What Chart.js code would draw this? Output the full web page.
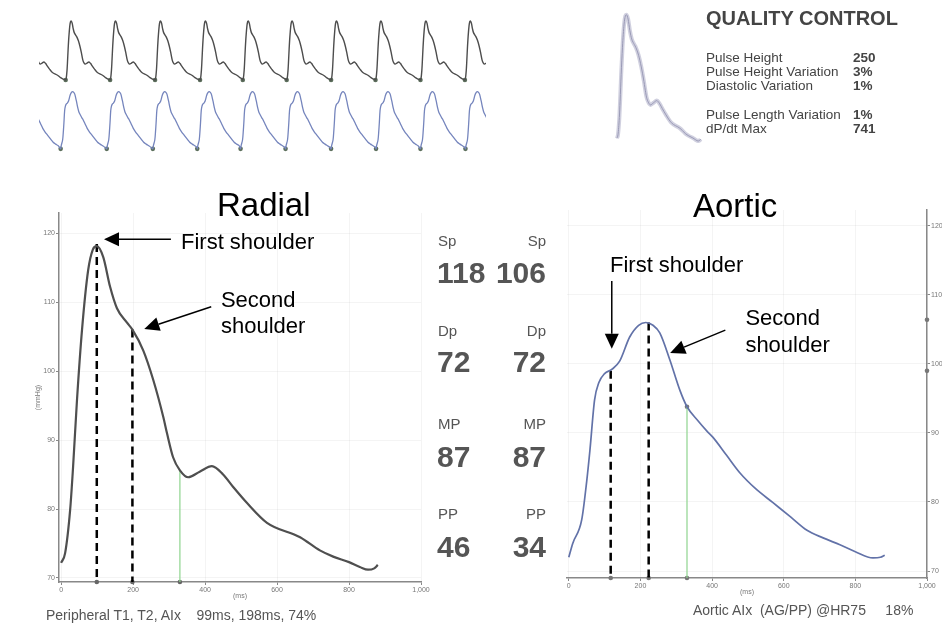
<!DOCTYPE html>
<html>
<head>
<meta charset="utf-8">
<script src="https://cdn.jsdelivr.net/npm/chart.js@4.4.1/dist/chart.umd.min.js"></script>
<style>
  body { margin: 0; background: #fff; font-family: Arial, "Liberation Sans", sans-serif; }
  #page { position: relative; width: 942px; height: 623px; overflow: hidden; background: #fff; }
  canvas, .txt { position: absolute; }
  .txt { white-space: pre; color: #555; line-height: 1; }
</style>
</head>
<body>
<div id="page">
  <canvas id="stripChart" width="455" height="170" style="left:35px;top:0px"></canvas>
  <canvas id="qcChart" width="110" height="150" style="left:605px;top:5px"></canvas>
  <canvas id="radialChart" width="442" height="423" style="left:0px;top:200px"></canvas>
  <canvas id="aorticChart" width="402" height="427" style="left:540px;top:196px"></canvas>
</div>
<script>
// Averaged radial pulse (ms, mmHg)
const radialMs = [0, 11, 25, 33, 44, 58, 75, 88, 99, 117, 136, 155, 183, 198, 228, 256, 284, 294, 311, 330, 353, 385, 419, 450, 478, 516, 572, 664, 719, 756, 800, 830, 853, 870, 880];
const radialP = [72.2, 73.6, 79.9, 86.0, 95.8, 106.0, 114.6, 117.6, 118.1, 116.5, 112.2, 109.1, 107.0, 106.0, 103.0, 98.7, 93.3, 91.0, 87.5, 85.6, 84.6, 85.4, 86.2, 85.0, 83.2, 80.9, 78.0, 75.9, 74.0, 73.1, 72.3, 71.6, 71.2, 71.4, 71.9];

// Derived aortic pulse (ms, mmHg)
const aorticMs = [0, 11, 36, 50, 59, 72, 84, 100, 120, 142, 170, 195, 215, 235, 254, 282, 310, 330, 360, 385, 402, 440, 478, 520, 570, 620, 665, 710, 757, 800, 849, 870, 882];
const aorticP = [72.0, 74.0, 77.4, 83.0, 87.5, 94.8, 97.3, 98.6, 99.2, 100.4, 103.9, 105.6, 106.0, 105.6, 104.5, 100.6, 96.2, 93.8, 91.8, 90.3, 89.4, 86.8, 84.2, 82.0, 79.9, 77.8, 75.9, 74.8, 73.8, 72.8, 71.9, 72.0, 72.3];

// Shoulder times and pressures, end of systole
const radialShoulderMs = [99, 198];
const radialShoulderP = [118, 106];
const aorticShoulderMs = [117, 223];
const aorticShoulderP = [99, 106];
const systoleEndMs = 330;
const radialSystoleEndP = 85.6;
const aorticSystoleEndP = 93.8;
const aorticAxisMarks = [106.4, 99];

// Beat onsets (s) in the raw strip
const radialOnsets = [-0.33, 0.48, 1.28, 2.09, 2.90, 3.67, 4.46, 5.26, 6.06, 6.87, 7.67];
const aorticOnsets = [-0.41, 0.39, 1.22, 2.05, 2.85, 3.63, 4.44, 5.26, 6.07, 6.87, 7.68];

// Axis ticks
const xTicks = [0, 200, 400, 600, 800, 1000];
const yTicks = [70, 80, 90, 100, 110, 120];

// Side panel values
const paramLabels = ['Sp', 'Dp', 'MP', 'PP'];
const radialParams = [118, 72, 87, 46];
const aorticParams = [106, 72, 87, 34];
const qcLabels = ['Pulse Height', 'Pulse Height Variation', 'Diastolic Variation', 'Pulse Length Variation', 'dP/dt Max'];
const qcValues = ['250', '3%', '1%', '1%', '741'];

const page = document.getElementById('page');

function addText(txt, x, y, size, o = {}) {
    const d = document.createElement('div');
    d.className = 'txt';
    d.textContent = txt;
    d.style.fontSize = size + 'px';
    d.style.top = (y - size * 0.5) + 'px';
    if (o.right) d.style.right = (942 - x) + 'px';
    else d.style.left = x + 'px';
    if (o.bold) d.style.fontWeight = 'bold';
    if (o.color) d.style.color = o.color;
    page.appendChild(d);
}

function pts(xs, ys) {
    return xs.map((t, i) => ({ x: t, y: ys[i] }));
}

// Repeat the averaged beat at each onset, cut at the next onset
function buildStrip(onsets, ms, p) {
    const out = [];
    onsets.forEach((o, i) => {
        const next = i + 1 < onsets.length ? onsets[i + 1] : Infinity;
        ms.forEach((t, j) => {
            const x = o + t / 1000;
            if (x < next) out.push({ x: x, y: p[j] });
        });
    });
    return out;
}

// Arrows drawn in data coordinates
const arrowPlugin = {
    id: 'arrows',
    afterDatasetsDraw(chart, args, opts) {
        const { ctx, scales: { x, y } } = chart;
        ctx.save();
        ctx.strokeStyle = '#000';
        ctx.fillStyle = '#000';
        ctx.lineWidth = 1.5;
        (opts.list || []).forEach(a => {
            const x1 = x.getPixelForValue(a.from[0]), y1 = y.getPixelForValue(a.from[1]);
            const x2 = x.getPixelForValue(a.to[0]), y2 = y.getPixelForValue(a.to[1]);
            const ang = Math.atan2(y2 - y1, x2 - x1);
            const head = 15, half = 7;
            const bx = x2 - head * Math.cos(ang), by = y2 - head * Math.sin(ang);
            ctx.beginPath();
            ctx.moveTo(x1, y1);
            ctx.lineTo(bx, by);
            ctx.stroke();
            ctx.beginPath();
            ctx.moveTo(x2, y2);
            ctx.lineTo(bx - half * Math.sin(ang), by + half * Math.cos(ang));
            ctx.lineTo(bx + half * Math.sin(ang), by - half * Math.cos(ang));
            ctx.closePath();
            ctx.fill();
        });
        ctx.restore();
    }
};

function placeNotes(chart, left, top, notes) {
    notes.forEach(n => {
        const px = left + chart.scales.x.getPixelForValue(n.x);
        const py = top + chart.scales.y.getPixelForValue(n.y);
        addText(n.text, px, py, 22, { color: '#000' });
    });
}

const tickFont = { size: 7, family: 'Arial' };

function xScale(min, height, titlePad) {
    return {
        type: 'linear', min: min, max: 1000,
        afterBuildTicks: s => { s.ticks = xTicks.map(v => ({ value: v })); },
        afterFit: s => { s.height = height; },
        grid: { color: 'rgba(0,0,0,0.045)', tickLength: 3, tickColor: '#888' },
        border: { color: '#888', width: 1.5 },
        ticks: { font: tickFont, color: '#777', padding: 1, maxRotation: 0 },
        title: { display: true, text: '(ms)', font: tickFont, color: '#777', padding: { top: 0, bottom: titlePad } }
    };
}

function yScale(min, max, width, position, title) {
    return {
        type: 'linear', min: min, max: max, position: position,
        afterBuildTicks: s => { s.ticks = yTicks.map(v => ({ value: v })); },
        afterFit: s => { s.width = width; },
        grid: { color: 'rgba(0,0,0,0.045)', tickLength: 3, tickColor: '#888' },
        border: { color: '#888', width: 1.5 },
        ticks: { font: tickFont, color: '#777', padding: 1 },
        title: { display: !!title, text: title || '', font: tickFont, color: '#777', padding: { top: 4, bottom: 0 } }
    };
}

function vline(x, yTop, yBottom, color, width, dash) {
    return {
        data: [{ x: x, y: yTop }, { x: x, y: yBottom }],
        borderColor: color, borderWidth: width, borderDash: dash || [],
        pointRadius: 0, tension: 0
    };
}

function markers(list, color) {
    return {
        data: list, showLine: false, clip: false,
        pointRadius: 2.3, pointBackgroundColor: color, pointBorderWidth: 0
    };
}

// Top strip: raw radial and aortic traces
new Chart(document.getElementById('stripChart'), {
    type: 'line',
    data: {
        datasets: [
            { data: buildStrip(radialOnsets, radialMs, radialP), yAxisID: 'yTop', borderColor: '#4d4d4d', borderWidth: 1.4, pointRadius: 0, tension: 0.3 },
            { data: buildStrip(aorticOnsets, aorticMs, aorticP), yAxisID: 'yBot', borderColor: '#7585bd', borderWidth: 1.3, pointRadius: 0, tension: 0.3 },
            Object.assign(markers(radialOnsets.map(o => ({ x: o, y: radialP[0] })), '#5b6e5b'), { yAxisID: 'yTop' }),
            Object.assign(markers(aorticOnsets.map(o => ({ x: o, y: aorticP[0] })), '#5b6e5b'), { yAxisID: 'yBot' })
        ]
    },
    options: {
        responsive: false, animation: false,
        layout: { padding: 0 },
        plugins: { legend: { display: false }, tooltip: { enabled: false } },
        scales: {
            x: { type: 'linear', min: 0, max: 8.05, display: false },
            yTop: { min: 5.2, max: 131.4, display: false },
            yBot: { min: 61.8, max: 158.1, display: false }
        }
    }
});

// Quality control overlay of beats
new Chart(document.getElementById('qcChart'), {
    type: 'line',
    data: {
        datasets: [
            { data: pts(radialMs, radialP), borderColor: 'rgba(150,150,185,0.45)', borderWidth: 4, pointRadius: 0, cubicInterpolationMode: 'monotone' },
            { data: pts(radialMs, radialP), borderColor: '#9c9cb4', borderWidth: 1, pointRadius: 0, cubicInterpolationMode: 'monotone' }
        ]
    },
    options: {
        responsive: false, animation: false,
        layout: { padding: 0 },
        plugins: { legend: { display: false }, tooltip: { enabled: false } },
        scales: {
            x: { type: 'linear', min: -126, max: 1032, display: false },
            y: { min: 66, max: 121.7, display: false }
        }
    }
});

// Radial chart
const radialMin = 69.42;
const radialChart = new Chart(document.getElementById('radialChart'), {
    type: 'line',
    data: {
        datasets: [
            { data: pts(radialMs, radialP), borderColor: '#4f4f4f', borderWidth: 2.2, pointRadius: 0, cubicInterpolationMode: 'monotone' },
            vline(radialShoulderMs[0], radialShoulderP[0] + 0.4, radialMin, '#000', 2.5, [8, 5]),
            vline(radialShoulderMs[1], radialShoulderP[1], radialMin, '#000', 2.5, [8, 5]),
            vline(systoleEndMs, radialSystoleEndP, radialMin, '#8fd48f', 1.2),
            markers(radialShoulderMs.concat([systoleEndMs]).map(t => ({ x: t, y: radialMin })), '#666')
        ]
    },
    options: {
        responsive: false, animation: false,
        layout: { padding: { left: 30, right: 21, top: 13, bottom: 0 } },
        plugins: {
            legend: { display: false }, tooltip: { enabled: false },
            arrows: { list: [
                { from: [305, 119.1], to: [119, 119.1] },
                { from: [417, 109.3], to: [231, 106.1] }
            ] }
        },
        scales: {
            x: xScale(-6, 41, 23),
            y: yScale(radialMin, 122.9, 29, 'left', '(mmHg)')
        }
    },
    plugins: [arrowPlugin]
});
placeNotes(radialChart, 0, 200, [
    { text: 'First shoulder', x: 333, y: 118.7 },
    { text: 'Second', x: 444, y: 110.3 },
    { text: 'shoulder', x: 444, y: 106.5 }
]);

// Aortic chart
const aorticMin = 68.99;
const aorticChart = new Chart(document.getElementById('aorticChart'), {
    type: 'line',
    data: {
        datasets: [
            { data: pts(aorticMs, aorticP), borderColor: '#6272a8', borderWidth: 1.7, pointRadius: 0, cubicInterpolationMode: 'monotone' },
            vline(aorticShoulderMs[0], aorticShoulderP[0], aorticMin, '#000', 2.5, [8, 5]),
            vline(aorticShoulderMs[1], aorticShoulderP[1], aorticMin, '#000', 2.5, [8, 5]),
            vline(systoleEndMs, aorticSystoleEndP, aorticMin, '#8fd48f', 1.2),
            markers(aorticShoulderMs.concat([systoleEndMs]).map(t => ({ x: t, y: aorticMin }))
                .concat([{ x: systoleEndMs, y: aorticSystoleEndP }])
                .concat(aorticAxisMarks.map(v => ({ x: 1000, y: v }))), '#777')
        ]
    },
    options: {
        responsive: false, animation: false,
        layout: { padding: { left: 27, right: 0, top: 14, bottom: 0 } },
        plugins: {
            legend: { display: false }, tooltip: { enabled: false },
            arrows: { list: [
                { from: [120, 112.0], to: [120, 102.2] },
                { from: [437, 104.9], to: [283, 101.6] }
            ] }
        },
        scales: {
            x: xScale(-5, 45, 27),
            y: yScale(aorticMin, 122.3, 15, 'right')
        }
    },
    plugins: [arrowPlugin]
});
placeNotes(aorticChart, 540, 196, [
    { text: 'First shoulder', x: 115, y: 114.3 },
    { text: 'Second', x: 493, y: 106.7 },
    { text: 'shoulder', x: 493, y: 102.8 }
]);

// Titles
addText('Radial', 217, 204, 33, { color: '#000' });
addText('Aortic', 693, 205, 33, { color: '#000' });

// Quality control panel
addText('QUALITY CONTROL', 706, 18, 20, { bold: true, color: '#444' });
const qcRows = [58, 72, 86, 115, 129];
qcLabels.forEach((l, i) => {
    addText(l, 706, qcRows[i], 13.5, { color: '#444' });
    addText(qcValues[i], 853, qcRows[i], 13.5, { bold: true, color: '#444' });
});

// Pressure parameters
const labelRows = [240, 330, 423, 513];
const valueRows = [273, 362, 457, 547];
paramLabels.forEach((l, i) => {
    addText(l, 438, labelRows[i], 15);
    addText(l, 546, labelRows[i], 15, { right: true });
    addText(String(radialParams[i]), 437, valueRows[i], 30, { bold: true });
    addText(String(aorticParams[i]), 546, valueRows[i], 30, { bold: true, right: true });
});

// Footers
addText('Peripheral T1, T2, AIx    99ms, 198ms, 74%', 46, 615, 14);
addText('Aortic AIx  (AG/PP) @HR75     18%', 693, 610, 14);
</script>
</body>
</html>
